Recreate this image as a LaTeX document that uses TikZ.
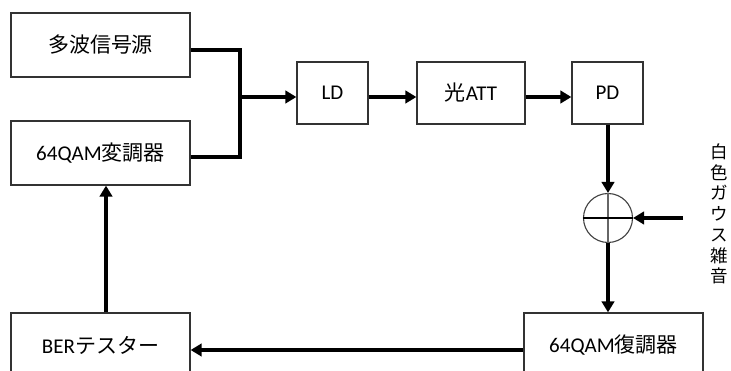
\documentclass[tikz,border=0pt]{standalone}
\usepackage{fontspec}
\setmainfont{Carlito}
\newfontfamily\jp{Noto Sans CJK JP}
\usetikzlibrary{arrows.meta}
\begin{document}
\begin{tikzpicture}[x=1pt,y=-1pt,
  block/.style={draw=black!80,line width=1.3pt,fill=white,inner sep=0pt,
    font=\fontsize{21}{25}\selectfont},
  wire/.style={line width=4.2pt,line join=miter},
  arr/.style={wire,-{Triangle[length=11pt,width=12.5pt]}},
  summer/.style={circle,draw=black!75,line width=1.1pt,minimum size=49pt,inner sep=0pt}]
\useasboundingbox (0,0) rectangle (731,371);
\clip (0,0) rectangle (731,371);

% signal chain blocks
\node[block,minimum width=179pt,minimum height=64pt] (src) at (100.5,45) {\jp 多波信号源};
\node[block,minimum width=179pt,minimum height=64pt] (mod) at (100.5,153) {64QAM{\jp 変調器}};
\node[block,minimum width=71pt,minimum height=62pt] (ld) at (332.5,93) {LD};
\node[block,minimum width=108pt,minimum height=62pt] (att) at (471,93) {{\jp 光}ATT};
\node[block,minimum width=71pt,minimum height=62pt] (pd) at (607.5,93) {PD};
\node[block,minimum width=179pt,minimum height=64pt] (dem) at (613.5,345) {64QAM{\jp 復調器}};
\node[block,minimum width=179pt,minimum height=64pt] (ber) at (100.5,345) {BER{\jp テスター}};

% adder with cross
\node[summer] (sum) at (608,218) {};
\draw[black!60,line width=1.1pt] (sum.north) -- (sum.south);
\draw[black,line width=1.1pt] (sum.west) -- (sum.east);

% noise input and its label, set as a vertical column
\coordinate (noise) at (683,218);
\node[font=\jp\fontsize{17.5}{20.7}\selectfont,align=center,inner sep=0pt] (nlabel) at (719,214)
  {白\\色\\ガ\\ウ\\ス\\雑\\音};

% combining the two sources
\coordinate (j1) at (240,50);
\coordinate (j2) at (240,157);
\coordinate (j) at (240,97);
\draw[wire] ([yshift=-5pt]src.east) -- (j1) -- (j2) -- ([yshift=-4pt]mod.east);
\draw[arr] (j) -- (j -| ld.west);

% main chain
\draw[arr] ([yshift=-4pt]ld.east) -- ([yshift=-4pt]att.west);
\draw[arr] ([yshift=-4pt]att.east) -- ([yshift=-4pt]pd.west);
\draw[arr] (pd.south -| sum.north) -- (sum.north);
\draw[arr] (noise) -- (sum.east);
\draw[arr] (sum.south) -- (sum.south |- dem.north);
\draw[arr] ([yshift=-5pt]dem.west) -- ([yshift=-5pt]dem.west -| ber.east);
\draw[arr] ([xshift=5.5pt]ber.north) -- ([xshift=5.5pt]ber.north |- mod.south);
\end{tikzpicture}
\end{document}
